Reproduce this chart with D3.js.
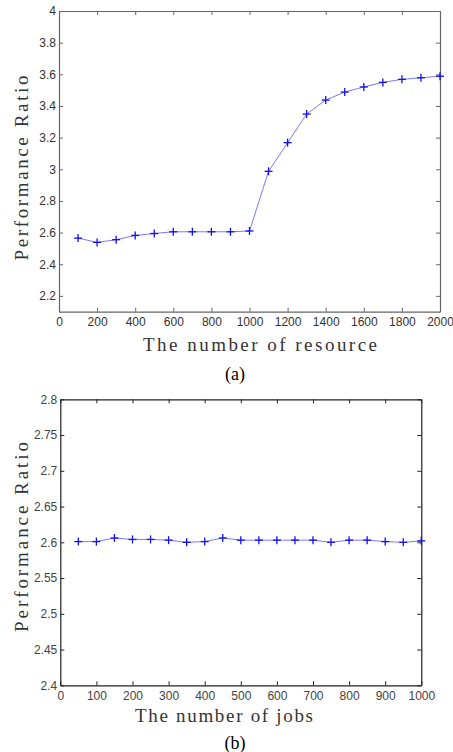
<!DOCTYPE html>
<html><head><meta charset="utf-8">
<script src="https://cdn.jsdelivr.net/npm/d3@7"></script>
<style>body{margin:0;background:#fff}svg{display:block}</style>
</head><body>
<script>
// Data
const resourceX = [100,200,300,400,500,600,700,800,900,1000,1100,1200,1300,1400,1500,1600,1700,1800,1900,2000];
const resourceRatio = [2.565,2.538,2.555,2.582,2.594,2.605,2.605,2.605,2.605,2.61,2.987,3.168,3.349,3.437,3.488,3.52,3.549,3.568,3.578,3.588];
const jobsX = [50,100,150,200,250,300,350,400,450,500,550,600,650,700,750,800,850,900,950,1000];
const jobsRatio = [2.601,2.601,2.606,2.604,2.604,2.603,2.600,2.601,2.606,2.603,2.603,2.603,2.603,2.603,2.600,2.603,2.603,2.601,2.600,2.602];
const xTicksA = [0,200,400,600,800,1000,1200,1400,1600,1800,2000];
const yTicksA = [2.2,2.4,2.6,2.8,3,3.2,3.4,3.6,3.8,4];
const xTicksB = [0,100,200,300,400,500,600,700,800,900,1000];
const yTicksB = [2.4,2.45,2.5,2.55,2.6,2.65,2.7,2.75,2.8];

const svg = d3.select("body").append("svg").attr("width",453).attr("height",752);

function panel(o){
  const x = d3.scaleLinear().domain(o.xDom).range([o.l,o.r]);
  const y = d3.scaleLinear().domain(o.yDom).range([o.b,o.t]);
  const g = svg.append("g");
  const tickLen = 4;
  const fmt = d => String(+d.toFixed(2));
  const ax = (gen, tr) => {
    const a = g.append("g").attr("transform",tr).call(gen);
    a.select(".domain").attr("stroke",o.axisColor).attr("stroke-width",1.2);
    a.selectAll(".tick line").attr("stroke",o.axisColor);
    return a;
  };
  const bx = ax(d3.axisBottom(x).tickValues(o.xTicks).tickSizeInner(-tickLen).tickSizeOuter(0).tickPadding(6).tickFormat(fmt), `translate(0,${o.b})`);
  bx.selectAll("text").attr("font-family","Liberation Sans, Arial, sans-serif").attr("font-size",12).attr("fill",o.textColor);
  ax(d3.axisTop(x).tickValues(o.xTicks).tickSizeInner(-tickLen).tickSizeOuter(0).tickFormat(""), `translate(0,${o.t})`);
  const ly = ax(d3.axisLeft(y).tickValues(o.yTicks).tickSizeInner(-tickLen).tickSizeOuter(0).tickPadding(3).tickFormat(fmt), `translate(${o.l},0)`);
  ly.selectAll("text").attr("font-family","Liberation Sans, Arial, sans-serif").attr("font-size",12).attr("fill",o.textColor);
  ax(d3.axisRight(y).tickValues(o.yTicks).tickSizeInner(-tickLen).tickSizeOuter(0).tickFormat(""), `translate(${o.r},0)`);

  g.append("path").datum(o.xs.map((v,i)=>[v,o.ys[i]]))
    .attr("fill","none").attr("stroke","#7a7aff").attr("stroke-width",1)
    .attr("d", d3.line().x(d=>x(d[0])).y(d=>y(d[1])));
  const m = 4;
  const mk = g.append("g").attr("stroke","#1010ee").attr("stroke-width",1.3);
  o.xs.forEach((v,i)=>{
    const cx = x(v), cy = y(o.ys[i]);
    mk.append("line").attr("x1",cx-m).attr("x2",cx+m).attr("y1",cy).attr("y2",cy);
    mk.append("line").attr("x1",cx).attr("x2",cx).attr("y1",cy-m).attr("y2",cy+m);
  });
  svg.append("text").attr("x",o.xlx).attr("y",o.xly).attr("text-anchor","middle")
    .attr("font-family","Liberation Serif, Times New Roman, serif").attr("font-size",19).attr("fill","#333")
    .attr("textLength",o.xlw).attr("lengthAdjust","spacing")
    .text(o.xLabel);
  svg.append("text").attr("transform",`translate(${o.ylx},${o.yly}) rotate(-90)`).attr("text-anchor","middle")
    .attr("font-family","Liberation Serif, Times New Roman, serif").attr("font-size",19).attr("fill","#333")
    .attr("textLength",o.ylw).attr("lengthAdjust","spacing")
    .text("Performance Ratio");
  svg.append("text").attr("x",o.capx).attr("y",o.capy).attr("text-anchor","middle")
    .attr("font-family","Liberation Serif, Times New Roman, serif").attr("font-size",18).attr("fill","#000")
    .text(o.caption);
}

panel({xDom:[0,2000], yDom:[2.1,4], l:59, r:440, t:11, b:311.7,
  xTicks:xTicksA, yTicks:yTicksA, xs:resourceX, ys:resourceRatio,
  axisColor:"#666", textColor:"#333",
  xLabel:"The number of resource", xlx:260, xly:351, xlw:234, ylx:28, yly:168, ylw:185,
  caption:"(a)", capx:235, capy:380});

panel({xDom:[0,1000], yDom:[2.4,2.8], l:60.3, r:421.3, t:399.3, b:685.3,
  xTicks:xTicksB, yTicks:yTicksB, xs:jobsX, ys:jobsRatio,
  axisColor:"#222", textColor:"#444",
  xLabel:"The number of jobs", xlx:224, xly:722, xlw:178, ylx:28, yly:537, ylw:190,
  caption:"(b)", capx:235, capy:749});
</script>
</body></html>
